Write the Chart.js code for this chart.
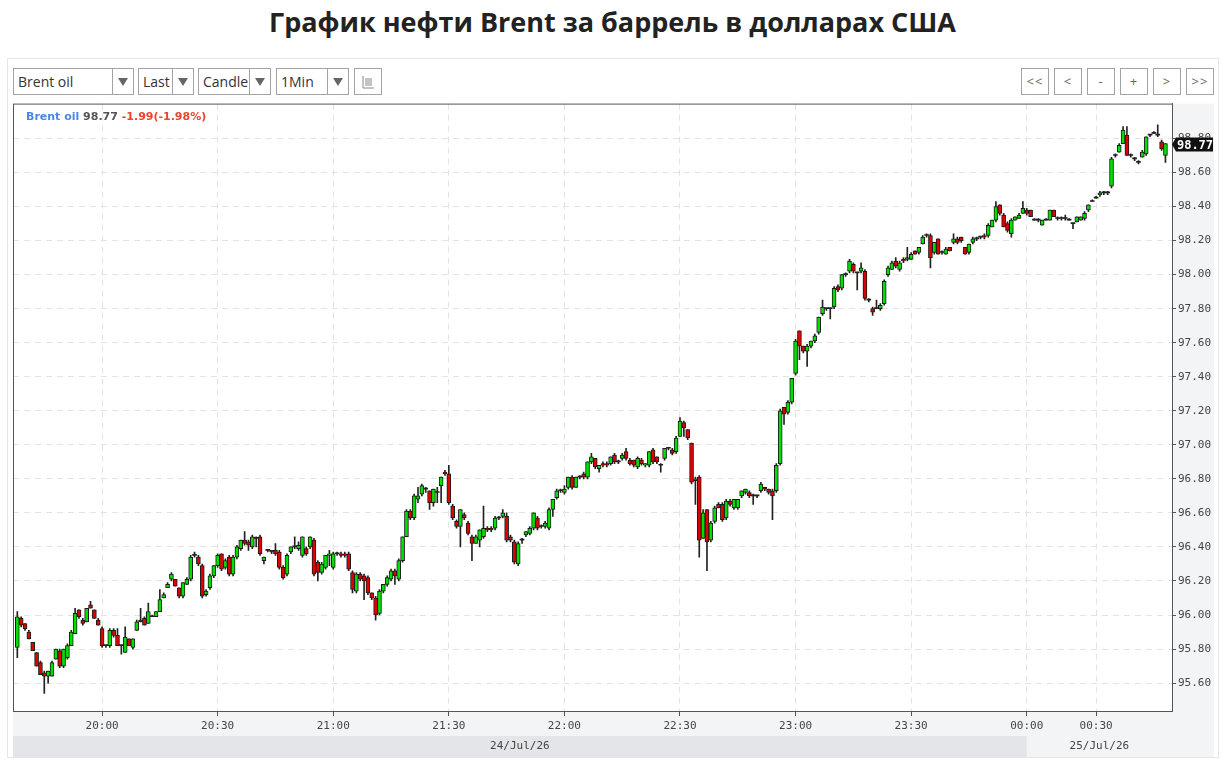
<!DOCTYPE html>
<html lang="ru">
<head>
    <meta charset="UTF-8">
    <title>График нефти Brent</title>
    <script src="https://cdn.jsdelivr.net/npm/chart.js"></script>
    <style>
        body {
            margin: 0;
            background: #fff;
            font-family: 'Open Sans', 'Noto Sans', sans-serif;
            width: 1231px;
            height: 770px;
            position: relative;
            overflow: hidden;
        }
        h1 {
            position: absolute;
            left: 0;
            width: 1225px;
            top: 3px;
            margin: 0;
            text-align: center;
            font-size: 27px;
            font-weight: bold;
            color: #222;
        }
        .panel {
            position: absolute;
            left: 7px;
            top: 58px;
            width: 1210px;
            height: 698px;
            border: 1px solid #e6e6e6;
        }
        .sel, .btn {
            position: absolute;
            top: 68px;
            height: 27px;
            box-sizing: border-box;
            border: 1px solid #a3a3a3;
            background: #fff;
            color: #333;
            font-size: 14px;
        }
        .sel .txt { position: absolute; left: 4px; top: 3px; }
        .sel .arr {
            position: absolute; right: 0; top: 0; bottom: 0; width: 20px;
            border-left: 1px solid #a3a3a3; background: #fff;
        }
        .sel .arr:after {
            content: ''; position: absolute; left: 5px; top: 9px;
            border-left: 5px solid transparent; border-right: 5px solid transparent;
            border-top: 8px solid #666;
        }
        .btn { width: 28px; text-align: center; line-height: 24px; font-size: 13px; color: #666; letter-spacing: 1px; }
        /* canvas starts a little above the plot: chart.js keeps half a label of room on top */
        #wrap { position: absolute; left: 12px; top: 95px; width: 1202px; height: 662px; }
    </style>
</head>
<body>
    <h1>График нефти Brent за баррель в долларах США</h1>
    <div class="panel"></div>

    <div class="sel" style="left:13px;width:121px"><span class="txt">Brent oil</span><span class="arr"></span></div>
    <div class="sel" style="left:138px;width:56px"><span class="txt">Last</span><span class="arr"></span></div>
    <div class="sel" style="left:198px;width:73px"><span class="txt">Candle</span><span class="arr"></span></div>
    <div class="sel" style="left:276px;width:73px"><span class="txt">1Min</span><span class="arr"></span></div>
    <div class="btn" style="left:354px">
        <svg width="14" height="14" viewBox="0 0 14 14" style="margin-top:6px">
            <path d="M2 1v12h11M4 4h7M4 6h7M4 8h7M4 10h7" stroke="#888" stroke-width="1" fill="none"/>
        </svg>
    </div>

    <div class="btn" style="left:1021px">&lt;&lt;</div>
    <div class="btn" style="left:1054px">&lt;</div>
    <div class="btn" style="left:1087px">-</div>
    <div class="btn" style="left:1120px">+</div>
    <div class="btn" style="left:1153px">&gt;</div>
    <div class="btn" style="left:1186px">&gt;&gt;</div>

    <div id="wrap"><canvas id="chart"></canvas></div>

    <script>
        // one candle per minute, 19:38 .. 00:48 (a few minutes after midnight are missing)
        const opens = [
            95.81, 95.98, 95.95, 95.90, 95.84, 95.78, 95.72, 95.66, 95.64, 95.64,
            95.74, 95.79, 95.70, 95.75, 95.82, 95.89, 96.03, 95.97, 95.96, 96.06,
            96.03, 95.97, 95.92, 95.82, 95.82, 95.91, 95.88, 95.82, 95.78, 95.86,
            95.81, 95.91, 95.97, 95.98, 95.95, 95.99, 95.99, 96.02, 96.10, 96.16,
            96.21, 96.21, 96.16, 96.11, 96.18, 96.21, 96.35, 96.34, 96.29, 96.12,
            96.16, 96.23, 96.29, 96.36, 96.28, 96.34, 96.24, 96.34, 96.39, 96.44,
            96.43, 96.40, 96.45, 96.46, 96.32, 96.38, 96.38, 96.38, 96.37, 96.28,
            96.24, 96.37, 96.40, 96.39, 96.35, 96.39, 96.40, 96.44, 96.31, 96.25,
            96.28, 96.35, 96.28, 96.36, 96.36, 96.36, 96.36, 96.25, 96.14, 96.24,
            96.23, 96.22, 96.13, 96.10, 96.01, 96.14, 96.18, 96.21, 96.26, 96.21,
            96.32, 96.46, 96.61, 96.57, 96.68, 96.71, 96.74, 96.73, 96.66, 96.72,
            96.76, 96.84, 96.83, 96.64, 96.55, 96.52, 96.59, 96.54, 96.46, 96.42,
            96.44, 96.46, 96.51, 96.51, 96.51, 96.57, 96.58, 96.58, 96.46, 96.43,
            96.30, 96.44, 96.47, 96.48, 96.51, 96.57, 96.52, 96.52, 96.51, 96.62,
            96.69, 96.73, 96.72, 96.75, 96.81, 96.75, 96.81, 96.83, 96.81, 96.90,
            96.92, 96.86, 96.89, 96.89, 96.89, 96.94, 96.90, 96.92, 96.96, 96.91,
            96.91, 96.87, 96.91, 96.88, 96.88, 96.97, 96.93, 96.88, 96.92, 96.98,
            96.97, 96.96, 97.05, 97.13, 97.09, 97.01, 96.79, 96.81, 96.45, 96.62,
            96.44, 96.55, 96.65, 96.65, 96.57, 96.67, 96.63, 96.63, 96.70, 96.72,
            96.72, 96.70, 96.70, 96.73, 96.75, 96.74, 96.73, 96.73, 96.89, 97.22,
            97.19, 97.25, 97.42, 97.67, 97.58, 97.55, 97.58, 97.61, 97.66, 97.77,
            97.80, 97.80, 97.81, 97.93, 97.92, 98.00, 98.02, 98.06, 98.01, 98.02,
            98.02, 97.85, 97.80, 97.80, 97.80, 97.83, 98.00, 98.03, 98.08, 98.03,
            98.09, 98.09, 98.09, 98.14, 98.13, 98.18, 98.23, 98.23, 98.13, 98.21,
            98.13, 98.12, 98.16, 98.19, 98.21, 98.22, 98.16, 98.13, 98.19, 98.21,
            98.22, 98.23, 98.23, 98.28, 98.32, 98.41, 98.35, 98.30, 98.24, 98.32,
            98.33, 98.36, 98.38, 98.38, 98.32, 98.32, 98.29, 98.32, 98.32, 98.38,
            98.33, 98.33, 98.33, 98.32, 98.30, 98.31, 98.32, 98.33, 98.38, 98.43,
            98.45, 98.47, 98.48, 98.48, 98.52, 98.70, 98.72, 98.77, 98.82, 98.70,
            98.68, 98.66, 98.69, 98.71, 98.82, 98.83, 98.82, 98.78, 98.70
        ];
        const highs = [
            96.02, 95.99, 95.95, 95.91, 95.84, 95.78, 95.73, 95.67, 95.67, 95.73,
            95.80, 95.80, 95.80, 95.83, 95.91, 96.04, 96.03, 95.98, 96.04, 96.08,
            96.03, 95.98, 95.93, 95.82, 95.92, 95.92, 95.92, 95.82, 95.93, 95.86,
            95.86, 95.97, 96.04, 95.99, 96.07, 96.00, 96.02, 96.15, 96.13, 96.19,
            96.25, 96.21, 96.16, 96.19, 96.22, 96.35, 96.37, 96.35, 96.30, 96.15,
            96.24, 96.29, 96.36, 96.36, 96.33, 96.35, 96.35, 96.41, 96.44, 96.49,
            96.44, 96.47, 96.46, 96.47, 96.34, 96.38, 96.38, 96.42, 96.38, 96.29,
            96.36, 96.40, 96.46, 96.43, 96.46, 96.40, 96.46, 96.45, 96.32, 96.31,
            96.35, 96.38, 96.37, 96.37, 96.37, 96.37, 96.37, 96.26, 96.25, 96.25,
            96.24, 96.23, 96.13, 96.11, 96.15, 96.18, 96.23, 96.27, 96.27, 96.33,
            96.46, 96.62, 96.62, 96.71, 96.75, 96.77, 96.75, 96.73, 96.74, 96.75,
            96.81, 96.85, 96.88, 96.65, 96.56, 96.62, 96.60, 96.55, 96.47, 96.47,
            96.50, 96.64, 96.52, 96.52, 96.58, 96.58, 96.62, 96.60, 96.47, 96.44,
            96.43, 96.45, 96.49, 96.52, 96.60, 96.58, 96.53, 96.55, 96.63, 96.68,
            96.74, 96.74, 96.76, 96.81, 96.82, 96.81, 96.82, 96.84, 96.90, 96.95,
            96.92, 96.88, 96.90, 96.90, 96.93, 96.95, 96.91, 96.95, 96.98, 96.92,
            96.91, 96.93, 96.92, 96.89, 96.96, 96.98, 96.93, 96.89, 96.98, 96.98,
            96.98, 97.05, 97.16, 97.14, 97.09, 97.01, 96.81, 96.82, 96.62, 96.62,
            96.55, 96.64, 96.66, 96.66, 96.68, 96.68, 96.68, 96.68, 96.73, 96.74,
            96.73, 96.71, 96.70, 96.78, 96.75, 96.74, 96.74, 96.89, 97.21, 97.22,
            97.26, 97.39, 97.62, 97.67, 97.58, 97.59, 97.61, 97.65, 97.75, 97.85,
            97.80, 97.80, 97.93, 97.94, 98.00, 98.01, 98.09, 98.07, 98.01, 98.07,
            98.03, 97.86, 97.81, 97.85, 97.83, 97.97, 98.05, 98.08, 98.10, 98.08,
            98.10, 98.16, 98.13, 98.14, 98.16, 98.23, 98.24, 98.24, 98.19, 98.21,
            98.14, 98.16, 98.16, 98.24, 98.22, 98.22, 98.16, 98.18, 98.22, 98.22,
            98.22, 98.24, 98.30, 98.32, 98.43, 98.41, 98.36, 98.31, 98.33, 98.34,
            98.36, 98.43, 98.39, 98.38, 98.33, 98.33, 98.32, 98.33, 98.38, 98.38,
            98.34, 98.34, 98.35, 98.33, 98.30, 98.34, 98.34, 98.37, 98.41, 98.44,
            98.46, 98.49, 98.49, 98.49, 98.69, 98.71, 98.77, 98.87, 98.87, 98.71,
            98.69, 98.67, 98.73, 98.81, 98.82, 98.84, 98.88, 98.79, 98.77
        ];
        const lows = [
            95.75, 95.93, 95.91, 95.86, 95.79, 95.70, 95.65, 95.54, 95.60, 95.64,
            95.74, 95.69, 95.69, 95.74, 95.82, 95.89, 95.98, 95.94, 95.96, 96.04,
            95.98, 95.94, 95.81, 95.81, 95.81, 95.87, 95.82, 95.77, 95.78, 95.82,
            95.80, 95.91, 95.96, 95.94, 95.95, 95.99, 95.99, 96.02, 96.10, 96.16,
            96.20, 96.17, 96.10, 96.10, 96.18, 96.20, 96.34, 96.29, 96.10, 96.11,
            96.15, 96.22, 96.28, 96.26, 96.27, 96.23, 96.23, 96.33, 96.38, 96.41,
            96.38, 96.39, 96.40, 96.35, 96.30, 96.37, 96.36, 96.35, 96.27, 96.21,
            96.23, 96.36, 96.39, 96.38, 96.34, 96.35, 96.39, 96.23, 96.20, 96.24,
            96.27, 96.29, 96.27, 96.35, 96.34, 96.34, 96.26, 96.13, 96.13, 96.20,
            96.09, 96.12, 96.09, 95.97, 96.00, 96.13, 96.17, 96.20, 96.18, 96.20,
            96.31, 96.46, 96.56, 96.56, 96.66, 96.70, 96.72, 96.62, 96.64, 96.66,
            96.66, 96.82, 96.65, 96.56, 96.51, 96.40, 96.56, 96.47, 96.32, 96.42,
            96.40, 96.45, 96.49, 96.49, 96.50, 96.56, 96.57, 96.43, 96.43, 96.30,
            96.29, 96.42, 96.46, 96.47, 96.50, 96.50, 96.51, 96.51, 96.50, 96.58,
            96.68, 96.72, 96.71, 96.74, 96.74, 96.75, 96.80, 96.80, 96.80, 96.89,
            96.86, 96.84, 96.87, 96.87, 96.88, 96.89, 96.89, 96.91, 96.91, 96.88,
            96.87, 96.86, 96.88, 96.87, 96.87, 96.89, 96.89, 96.84, 96.91, 96.97,
            96.94, 96.95, 97.05, 97.05, 97.03, 96.77, 96.65, 96.34, 96.45, 96.26,
            96.43, 96.54, 96.63, 96.55, 96.56, 96.64, 96.62, 96.62, 96.69, 96.71,
            96.69, 96.65, 96.69, 96.72, 96.73, 96.71, 96.56, 96.72, 96.88, 97.12,
            97.18, 97.24, 97.41, 97.50, 97.54, 97.46, 97.57, 97.60, 97.65, 97.76,
            97.79, 97.74, 97.80, 97.90, 97.91, 97.99, 98.01, 98.01, 97.91, 98.01,
            97.85, 97.84, 97.76, 97.80, 97.79, 97.82, 97.99, 98.03, 98.04, 98.02,
            98.07, 98.08, 98.09, 98.12, 98.12, 98.18, 98.22, 98.04, 98.12, 98.12,
            98.12, 98.12, 98.14, 98.18, 98.18, 98.19, 98.12, 98.12, 98.18, 98.20,
            98.21, 98.21, 98.22, 98.28, 98.31, 98.35, 98.28, 98.25, 98.22, 98.32,
            98.33, 98.36, 98.35, 98.34, 98.32, 98.31, 98.29, 98.32, 98.32, 98.34,
            98.32, 98.32, 98.32, 98.32, 98.27, 98.31, 98.32, 98.32, 98.37, 98.43,
            98.45, 98.46, 98.47, 98.47, 98.51, 98.69, 98.72, 98.77, 98.70, 98.69,
            98.67, 98.65, 98.69, 98.70, 98.81, 98.83, 98.81, 98.73, 98.66
        ];
        const closes = [
            95.99, 95.94, 95.92, 95.86, 95.79, 95.70, 95.65, 95.64, 95.67, 95.72,
            95.80, 95.70, 95.80, 95.82, 95.90, 96.01, 95.99, 95.95, 96.04, 96.04,
            95.98, 95.94, 95.82, 95.82, 95.91, 95.88, 95.82, 95.82, 95.87, 95.82,
            95.86, 95.96, 95.96, 95.94, 96.02, 95.99, 96.02, 96.09, 96.12, 96.18,
            96.24, 96.17, 96.11, 96.19, 96.21, 96.34, 96.35, 96.30, 96.11, 96.14,
            96.23, 96.29, 96.35, 96.27, 96.32, 96.24, 96.34, 96.40, 96.44, 96.42,
            96.41, 96.46, 96.45, 96.36, 96.34, 96.38, 96.37, 96.36, 96.28, 96.22,
            96.35, 96.40, 96.40, 96.41, 96.46, 96.36, 96.46, 96.24, 96.25, 96.30,
            96.35, 96.36, 96.36, 96.36, 96.35, 96.35, 96.27, 96.15, 96.24, 96.21,
            96.20, 96.13, 96.10, 96.00, 96.14, 96.18, 96.22, 96.26, 96.23, 96.32,
            96.46, 96.61, 96.57, 96.70, 96.70, 96.76, 96.74, 96.66, 96.74, 96.72,
            96.81, 96.83, 96.66, 96.57, 96.52, 96.62, 96.57, 96.48, 96.42, 96.46,
            96.50, 96.51, 96.50, 96.50, 96.57, 96.57, 96.60, 96.44, 96.44, 96.31,
            96.42, 96.44, 96.49, 96.51, 96.60, 96.51, 96.52, 96.54, 96.62, 96.68,
            96.73, 96.73, 96.74, 96.81, 96.75, 96.81, 96.81, 96.81, 96.90, 96.93,
            96.87, 96.88, 96.88, 96.88, 96.93, 96.90, 96.90, 96.94, 96.92, 96.89,
            96.88, 96.92, 96.89, 96.89, 96.96, 96.90, 96.90, 96.88, 96.98, 96.98,
            96.95, 97.04, 97.14, 97.10, 97.04, 96.78, 96.80, 96.44, 96.60, 96.43,
            96.54, 96.63, 96.63, 96.56, 96.67, 96.65, 96.68, 96.68, 96.73, 96.74,
            96.70, 96.70, 96.70, 96.77, 96.74, 96.72, 96.70, 96.88, 97.20, 97.18,
            97.25, 97.39, 97.61, 97.58, 97.55, 97.58, 97.61, 97.64, 97.75, 97.81,
            97.80, 97.80, 97.92, 97.91, 98.00, 98.00, 98.08, 98.02, 98.01, 98.04,
            97.86, 97.85, 97.78, 97.80, 97.82, 97.96, 98.04, 98.07, 98.05, 98.07,
            98.08, 98.10, 98.12, 98.12, 98.16, 98.22, 98.23, 98.10, 98.19, 98.12,
            98.13, 98.15, 98.14, 98.21, 98.19, 98.20, 98.12, 98.18, 98.21, 98.21,
            98.22, 98.22, 98.29, 98.32, 98.40, 98.36, 98.28, 98.26, 98.32, 98.34,
            98.35, 98.39, 98.36, 98.34, 98.32, 98.32, 98.32, 98.32, 98.38, 98.34,
            98.33, 98.33, 98.33, 98.32, 98.30, 98.34, 98.34, 98.36, 98.41, 98.43,
            98.45, 98.48, 98.48, 98.48, 98.68, 98.70, 98.76, 98.85, 98.70, 98.70,
            98.68, 98.66, 98.72, 98.81, 98.82, 98.83, 98.82, 98.74, 98.77
        ];

        // candle index of each half-hour label on the time axis
        const tickIndex = [22, 52, 82, 112, 142, 172, 202, 232, 262, 280];
        const tickLabels = ['20:00', '20:30', '21:00', '21:30', '22:00', '22:30', '23:00', '23:30', '00:00', '00:30'];
        const dayLabels = ['24/Jul/26', '25/Jul/26'];
        const dayBreak = 262;

        const seriesName = 'Brent oil';
        const lastPrice = '98.77';
        const change = '-1.99(-1.98%)';

        const GREEN = '#00e000';
        const RED = '#e00000';
        const GRID = '#e3e3e3';
        const monoFont = "'DejaVu Sans Mono', monospace";
        const Y_TOP = 99.005;

        const wickData = [];
        const bodyData = [];
        const bodyColors = [];
        const bodyBorders = [];
        for (let i = 0; i < closes.length; i++) {
            wickData.push({ x: i, y: [lows[i], highs[i]] });
            bodyData.push({ x: i, y: [opens[i], closes[i]] });
            if (closes[i] > opens[i]) {
                bodyColors.push(GREEN);
                bodyBorders.push(1);
            } else if (closes[i] < opens[i]) {
                bodyColors.push(RED);
                bodyBorders.push(1);
            } else {
                bodyColors.push('#222');  // doji -> flat dash
                bodyBorders.push(0);
            }
        }

        // the 99.00 step sits on the top frame; keep it invisible
        const hiddenTop = (v) => v > 98.9;

        // axis bands, frame, header text and last price marker
        const chartFrame = {
            id: 'chartFrame',
            beforeDraw(chart) {
                const { ctx, chartArea: a, scales } = chart;
                const W = chart.width, H = chart.height;
                const split = scales.x.getPixelForValue(dayBreak);
                ctx.save();
                ctx.fillStyle = '#f3f4f6';
                ctx.fillRect(a.right, a.top, W - a.right, H - a.top);
                ctx.fillRect(a.left, a.bottom, W - a.left, H - a.bottom);
                ctx.fillStyle = '#e4e5e8';
                ctx.fillRect(a.left, a.bottom + 25, split - a.left, H - a.bottom - 25);
                ctx.fillStyle = '#444';
                ctx.font = '11px ' + monoFont;
                ctx.textAlign = 'center';
                ctx.textBaseline = 'middle';
                ctx.fillText(dayLabels[0], (a.left + split) / 2, a.bottom + 35);
                ctx.fillText(dayLabels[1], (split + a.right) / 2, a.bottom + 35);
                ctx.restore();
            },
            afterDraw(chart) {
                const { ctx, chartArea: a, scales } = chart;
                ctx.save();
                ctx.strokeStyle = '#555';
                ctx.lineWidth = 1;
                ctx.strokeRect(a.left + 0.5, a.top + 0.5, a.right - a.left, a.bottom - a.top);

                // header
                ctx.textBaseline = 'middle';
                ctx.textAlign = 'left';
                ctx.font = "bold 11px 'DejaVu Sans'";
                let x = a.left + 13;
                const y = a.top + 14;
                ctx.fillStyle = '#4a86e8';
                ctx.fillText(seriesName, x, y);
                x += ctx.measureText(seriesName + ' ').width;
                ctx.fillStyle = '#555';
                ctx.fillText(lastPrice, x, y);
                x += ctx.measureText(lastPrice + ' ').width;
                ctx.fillStyle = '#e8452c';
                ctx.fillText(change, x, y);

                // last price marker on the right axis
                const py = Math.round(scales.y.getPixelForValue(closes[closes.length - 1])) + 0.5;
                const bx = a.right + 4;
                ctx.fillStyle = '#111';
                ctx.beginPath();
                ctx.moveTo(a.right, py);
                ctx.lineTo(bx, py - 7);
                ctx.lineTo(bx + 37, py - 7);
                ctx.lineTo(bx + 37, py + 7);
                ctx.lineTo(bx, py + 7);
                ctx.closePath();
                ctx.fill();
                ctx.fillStyle = '#fff';
                ctx.font = 'bold 12px ' + monoFont;
                ctx.textAlign = 'center';
                ctx.fillText(lastPrice, bx + 19, py + 1);
                ctx.restore();
            }
        };

        new Chart(document.getElementById('chart'), {
            type: 'bar',
            data: {
                datasets: [
                    {
                        data: wickData,
                        backgroundColor: '#222',
                        barThickness: 1,
                        grouped: false,
                        order: 2
                    },
                    {
                        data: bodyData,
                        backgroundColor: bodyColors,
                        borderColor: '#1a1a1a',
                        borderWidth: bodyBorders,
                        borderSkipped: false,
                        barThickness: 4,
                        minBarLength: 1,
                        grouped: false,
                        order: 1
                    }
                ]
            },
            options: {
                responsive: true,
                maintainAspectRatio: false,
                animation: false,
                layout: { padding: { left: 1, top: 0 } },
                plugins: {
                    legend: { display: false },
                    tooltip: { enabled: false }
                },
                scales: {
                    x: {
                        type: 'linear',
                        offset: false,
                        min: -1.12,
                        max: 299.7,
                        afterBuildTicks: (s) => { s.ticks = tickIndex.map(v => ({ value: v })); },
                        afterFit: (s) => { s.height = 46; },
                        ticks: {
                            autoSkip: false,
                            maxRotation: 0,
                            padding: 4,
                            color: '#444',
                            font: { family: monoFont, size: 11 },
                            callback: (v) => tickLabels[tickIndex.indexOf(v)]
                        },
                        grid: { offset: false, color: GRID, tickLength: 5, tickColor: '#555' },
                        border: { color: '#555', dash: [6, 5] }
                    },
                    y: {
                        position: 'right',
                        min: 95.436,
                        max: Y_TOP,
                        afterFit: (s) => { s.width = 42; },
                        ticks: {
                            stepSize: 0.2,
                            includeBounds: false,
                            padding: 2,
                            color: '#444',
                            font: { family: monoFont, size: 11 },
                            callback: (v) => hiddenTop(v) ? '' : v.toFixed(2)
                        },
                        grid: {
                            color: (c) => c.tick && hiddenTop(c.tick.value) ? 'rgba(0,0,0,0)' : GRID,
                            tickColor: (c) => c.tick && hiddenTop(c.tick.value) ? 'rgba(0,0,0,0)' : '#555',
                            tickLength: 4
                        },
                        border: { color: '#555', dash: [6, 5] }
                    }
                }
            },
            plugins: [chartFrame]
        });
    </script>
</body>
</html>
